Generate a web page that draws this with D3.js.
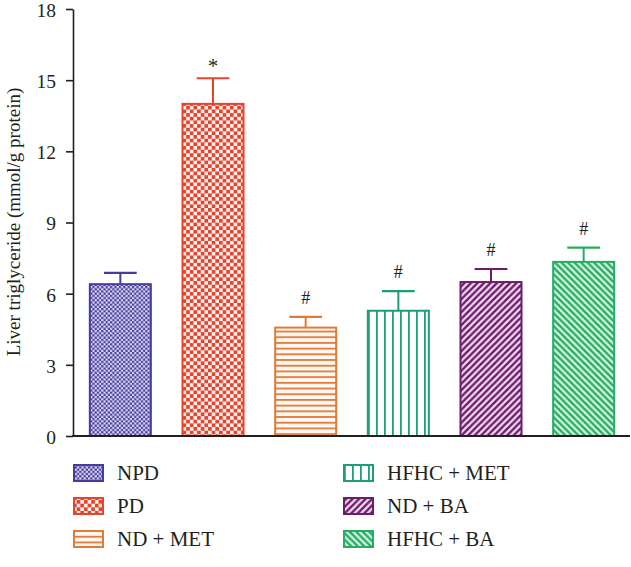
<!DOCTYPE html>
<html><head><meta charset="utf-8">
<script src="https://cdn.jsdelivr.net/npm/d3@7"></script>
<style>body{margin:0;background:#fff}svg{display:block}text{font-family:"Liberation Serif","DejaVu Serif",serif;fill:#231f20}</style>
</head><body><div id="c"></div>
<script>
const categories = ["NPD","PD","ND + MET","HFHC + MET","ND + BA","HFHC + BA"];
const means = [6.4, 14.0, 4.57, 5.28, 6.49, 7.34];
const errors = [0.48, 1.08, 0.45, 0.83, 0.55, 0.6];
const marks = ["", "*", "#", "#", "#", "#"];
const yTicks = [0,3,6,9,12,15,18];
const colors = ["#463c9c","#e8432b","#e07b39","#1e9e78","#6b1c6b","#26ad62"];

const W=631,H=567;
const svg=d3.select("#c").append("svg").attr("width",W).attr("height",H);
const defs=svg.append("defs");
function pat(id,size,bg,draw){
  const p=defs.append("pattern").attr("id",id).attr("patternUnits","userSpaceOnUse").attr("width",size).attr("height",size);
  p.append("rect").attr("width",size).attr("height",size).attr("fill",bg);
  draw(p,size);
}
const ids=["p0","p1","p2","p3","p4","p5"];
pat("p0",4.4,"#dcd8f4",(p,s)=>{p.append("rect").attr("width",s/2).attr("height",s/2).attr("fill",colors[0]);p.append("rect").attr("x",s/2).attr("y",s/2).attr("width",s/2).attr("height",s/2).attr("fill",colors[0]);});
pat("p1",7.3,"#fdf0ee",(p,s)=>{p.append("rect").attr("width",s/2).attr("height",s/2).attr("fill",colors[1]);p.append("rect").attr("x",s/2).attr("y",s/2).attr("width",s/2).attr("height",s/2).attr("fill",colors[1]);});
pat("p2",5.7,"#fff8f2",(p,s)=>{p.append("rect").attr("y",0).attr("width",s).attr("height",1.8).attr("fill",colors[2]);});
pat("p3",8,"#ffffff",(p,s)=>{p.append("rect").attr("x",0).attr("width",1.8).attr("height",s).attr("fill",colors[3]);});
pat("p4",6.5,"#f3dcf0",(p,s)=>{p.append("path").attr("d",`M${-s},${s*2} L${s*2},${-s} M${-s},${s} L${s},${-s} M0,${s*2} L${s*2},0`).attr("stroke",colors[4]).attr("stroke-width",2.4);});
pat("p5",6.5,"#d6f3e2",(p,s)=>{p.append("path").attr("d",`M${-s},${-s} L${s*2},${s*2} M${-s},0 L${s},${s*2} M0,${-s} L${s*2},${s}`).attr("stroke",colors[5]).attr("stroke-width",2.4);});

const x=d3.scaleBand().domain(categories).range([74,630]).paddingInner(0.32).paddingOuter(0.16);
const y=d3.scaleLinear().domain([0,18]).range([436,9]);

// bars
const g=svg.append("g");
categories.forEach((c,i)=>{
  const x0=x(c),bw=x.bandwidth(),cx=x0+bw/2;
  const top=y(means[i]),cap=y(means[i]+errors[i]);
  g.append("line").attr("x1",cx).attr("x2",cx).attr("y1",top).attr("y2",cap).attr("stroke",colors[i]).attr("stroke-width",2);
  g.append("line").attr("x1",cx-bw*0.26).attr("x2",cx+bw*0.26).attr("y1",cap).attr("y2",cap).attr("stroke",colors[i]).attr("stroke-width",2.2);
  g.append("rect").attr("x",x0+1).attr("y",top).attr("width",bw-2).attr("height",y(0)-top).attr("fill",`url(#${ids[i]})`).attr("stroke",colors[i]).attr("stroke-width",2);
  if(marks[i]) g.append("text").attr("x",cx).attr("y",cap-(marks[i]==="*"?5:13)).attr("text-anchor","middle").attr("font-size",marks[i]==="*"?21:18).text(marks[i]);
});

// axes
const ya=svg.append("g").attr("transform","translate(73,0)").call(d3.axisLeft(y).tickValues(yTicks).tickSize(7).tickSizeOuter(0));
ya.select(".domain").attr("stroke","#231f20").attr("stroke-width",1.6);
ya.selectAll(".tick line").attr("stroke","#231f20").attr("stroke-width",1.6);
ya.selectAll(".tick text").attr("font-size",19.5).attr("x",-17).attr("dy","0.38em").attr("fill","#231f20").style("font-family",'"Liberation Serif","DejaVu Serif",serif');
svg.append("line").attr("x1",72).attr("x2",630).attr("y1",436).attr("y2",436).attr("stroke","#231f20").attr("stroke-width",1.8);
svg.append("text").attr("transform","translate(20,222) rotate(-90)").attr("text-anchor","middle").attr("font-size",19).text("Liver triglyceride (mmol/g protein)");

// legend
const lg=svg.append("g");
categories.forEach((c,i)=>{
  const col=Math.floor(i/3),row=i%3;
  const lx=col?343:73, ly=465+row*33;
  lg.append("rect").attr("x",lx+1).attr("y",ly).attr("width",29).attr("height",16).attr("fill",`url(#${ids[i]})`).attr("stroke",colors[i]).attr("stroke-width",2);
  lg.append("text").attr("x",lx+44).attr("y",ly+15).attr("font-size",21).text(c);
});
</script></body></html>
